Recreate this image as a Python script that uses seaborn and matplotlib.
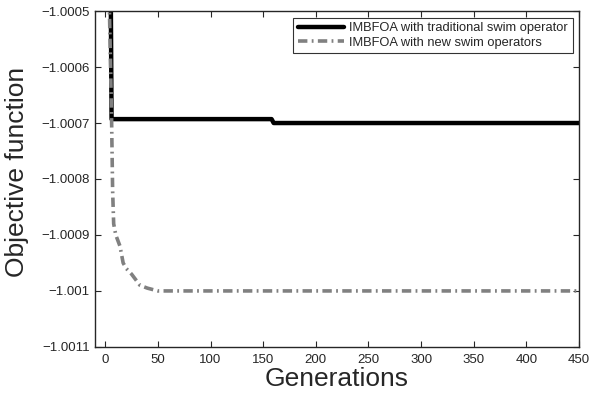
import numpy as np
import pandas as pd
import matplotlib
matplotlib.use("Agg")
import matplotlib.pyplot as plt
import seaborn as sns

# values
gen_trad = [0, 5, 6, 158, 160, 450]
obj_trad = [-1.0003, -1.0004, -1.000693, -1.000693, -1.0007, -1.0007]

gen_new = [0, 4, 6, 7, 8, 10, 14, 17, 20, 25, 33, 40, 50, 450]
obj_new = [-1.0003, -1.0005, -1.00069, -1.00082, -1.00088, -1.0009, -1.00092,
           -1.00095, -1.00096, -1.00097, -1.00099, -1.000995, -1.001, -1.001]

x_ticks = [0, 50, 100, 150, 200, 250, 300, 350, 400, 450]
y_ticks = [-1.0011, -1.0010, -1.0009, -1.0008, -1.0007, -1.0006, -1.0005]
y_tick_labels = ["\u22121.0011", "\u22121.001", "\u22121.0009", "\u22121.0008",
                 "\u22121.0007", "\u22121.0006", "\u22121.0005"]

label_trad = "IMBFOA with traditional swim operator"
label_new = "IMBFOA with new swim operators"

sns.set_style("ticks")
plt.rcParams['font.family'] = ['Liberation Sans', 'DejaVu Sans']

df_trad = pd.DataFrame({"gen": gen_trad, "obj": obj_trad})
df_new = pd.DataFrame({"gen": gen_new, "obj": obj_new})

fig = plt.figure(figsize=(5.92, 3.96), dpi=100)
ax = fig.add_axes([0.16, 0.124, 0.818, 0.848])

sns.lineplot(data=df_trad, x="gen", y="obj", ax=ax, color="black", linewidth=3.2,
             label=label_trad, sort=False, estimator=None)
sns.lineplot(data=df_new, x="gen", y="obj", ax=ax, color="#808080", linewidth=2.6,
             linestyle=(0, (2.6, 1.2, 0.5, 1.2)), label=label_new, sort=False, estimator=None)

ax.set_xlim(-10, 450)
ax.set_ylim(-1.0011, -1.0005)
ax.set_xticks(x_ticks)
ax.set_yticks(y_ticks)
ax.set_yticklabels(y_tick_labels)
ax.tick_params(direction="in", top=True, right=True, labelsize=9.5, length=4, width=0.8)
ax.tick_params(axis="x", pad=5)
for s in ax.spines.values():
    s.set_linewidth(1.0)
    s.set_visible(True)

ax.set_xlabel("Generations", fontsize=19, labelpad=1)
ax.set_ylabel("Objective function", fontsize=19)
ax.yaxis.set_label_coords(-0.135, 0.52)

leg = ax.legend(loc="upper right", fontsize=9.3, frameon=True, fancybox=False,
                edgecolor="black", borderpad=0.35, labelspacing=0.2, handlelength=3.6,
                handletextpad=0.4, borderaxespad=0.5)
leg.get_frame().set_linewidth(0.8)

fig.savefig("out.png", dpi=100)
